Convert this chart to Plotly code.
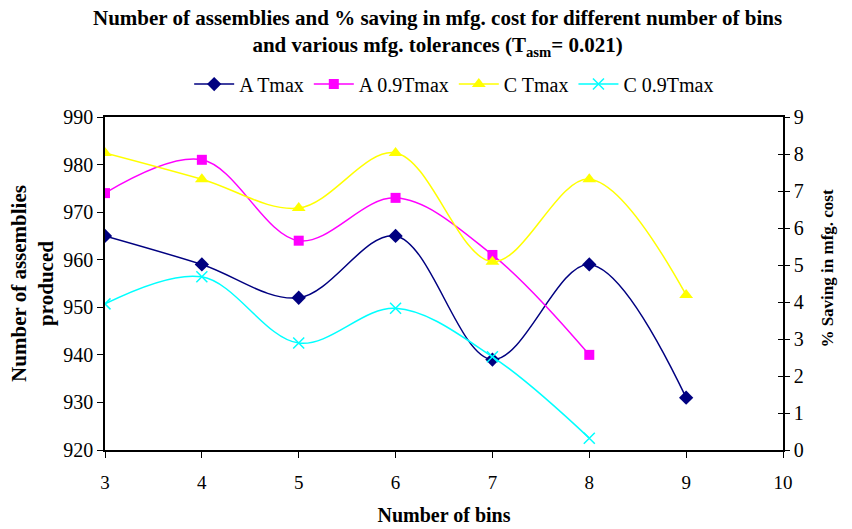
import plotly.graph_objects as go

# Number of bins
bins = [3, 4, 5, 6, 7, 8, 9]

# Number of assemblies produced (left axis)
a_tmax = [965, 959, 952, 965, 939, 959, 931]
a_09tmax = [974, 981, 964, 973, 961, 940]

# % saving in manufacturing cost (right axis)
c_tmax = [8.03, 7.32, 6.54, 8.03, 5.09, 7.32, 4.19]
c_09tmax = [3.95, 4.68, 2.89, 3.83, 2.52, 0.32]

FONT = "Liberation Serif"

fig = go.Figure()

fig.add_trace(go.Scatter(
    x=bins, y=a_tmax, name="A Tmax", mode="lines+markers",
    line=dict(color="#000080", width=1.5, shape="spline", smoothing=1),
    marker=dict(symbol="diamond", size=11, color="#000080"),
    yaxis="y"))
fig.add_trace(go.Scatter(
    x=bins[:len(a_09tmax)], y=a_09tmax, name="A 0.9Tmax", mode="lines+markers",
    line=dict(color="#FF00FF", width=1.5, shape="spline", smoothing=1),
    marker=dict(symbol="square", size=10, color="#FF00FF"),
    yaxis="y"))
fig.add_trace(go.Scatter(
    x=bins, y=c_tmax, name="C Tmax", mode="lines+markers",
    line=dict(color="#FFFF00", width=1.5, shape="spline", smoothing=1),
    marker=dict(symbol="triangle-up", size=12, color="#FFFF00"),
    yaxis="y2"))
fig.add_trace(go.Scatter(
    x=bins[:len(c_09tmax)], y=c_09tmax, name="C 0.9Tmax", mode="lines+markers",
    line=dict(color="#00FFFF", width=1.5, shape="spline", smoothing=1),
    marker=dict(symbol="x-thin", size=11, color="#00FFFF",
                line=dict(color="#00FFFF", width=1.5)),
    yaxis="y2"))

# carrier trace so the inner tick marks of the right axis get drawn
fig.add_trace(go.Scatter(
    x=[3], y=[0], yaxis="y3", mode="markers", showlegend=False,
    hoverinfo="skip", marker=dict(opacity=0)))

fig.add_annotation(
    text="<b>Number of assemblies and % saving in mfg. cost for different number of bins<br>"
         "and various mfg. tolerances (T<sub>asm</sub>= 0.021)</b>",
    xref="paper", yref="paper", x=0.49, y=1.34, xanchor="center", yanchor="top",
    showarrow=False, align="center", font=dict(family=FONT, size=21, color="black"))

# right-hand axis title
fig.add_annotation(
    text="<b>% Saving in mfg. cost</b>", textangle=-90,
    xref="paper", yref="paper", x=1.065, y=0.545, xanchor="center", yanchor="middle",
    showarrow=False, font=dict(family=FONT, size=17, color="black"))

fig.update_layout(
    width=852, height=529,
    paper_bgcolor="white", plot_bgcolor="white",
    margin=dict(l=105, r=69, t=117, b=79),
    font=dict(family=FONT, size=19, color="black"),
    legend=dict(orientation="h", x=0.515, xanchor="center", y=1.099, yanchor="middle",
                font=dict(family=FONT, size=20), itemwidth=40,
                traceorder="normal", bgcolor="rgba(0,0,0,0)"),
    showlegend=True,
    xaxis=dict(
        range=[3, 10], dtick=1, tick0=3, automargin=False,
        showline=True, linecolor="black", linewidth=1.5, mirror=True,
        ticks="outside", ticklen=6, tickcolor="black",
        showgrid=False, zeroline=False, ticklabelstandoff=8,
        tickfont=dict(family=FONT, size=19),
        title=dict(text="<b>Number of bins</b>", font=dict(family=FONT, size=20), standoff=16)),
    yaxis=dict(
        range=[920, 990], dtick=10, automargin=False,
        showline=True, linecolor="black", linewidth=1.5,
        ticks="outside", ticklen=6, tickcolor="black",
        showgrid=False, zeroline=False,
        tickfont=dict(family=FONT, size=20),
        title=dict(text="<b>Number of assemblies<br>produced</b>",
                   font=dict(family=FONT, size=21), standoff=4)),
    yaxis2=dict(
        range=[0, 9], dtick=1, overlaying="y", side="right", anchor="x", automargin=False,
        showline=True, linecolor="black", linewidth=1.5,
        ticks="outside", ticklen=5, tickcolor="black",
        showgrid=False, zeroline=False,
        tickfont=dict(family=FONT, size=20)),
    yaxis3=dict(
        range=[0, 9], dtick=1, overlaying="y", side="right", anchor="x", automargin=False,
        ticks="inside", ticklen=5, tickcolor="black",
        showticklabels=False, showgrid=False, zeroline=False, showline=False),
)

fig.write_html("out.html")
